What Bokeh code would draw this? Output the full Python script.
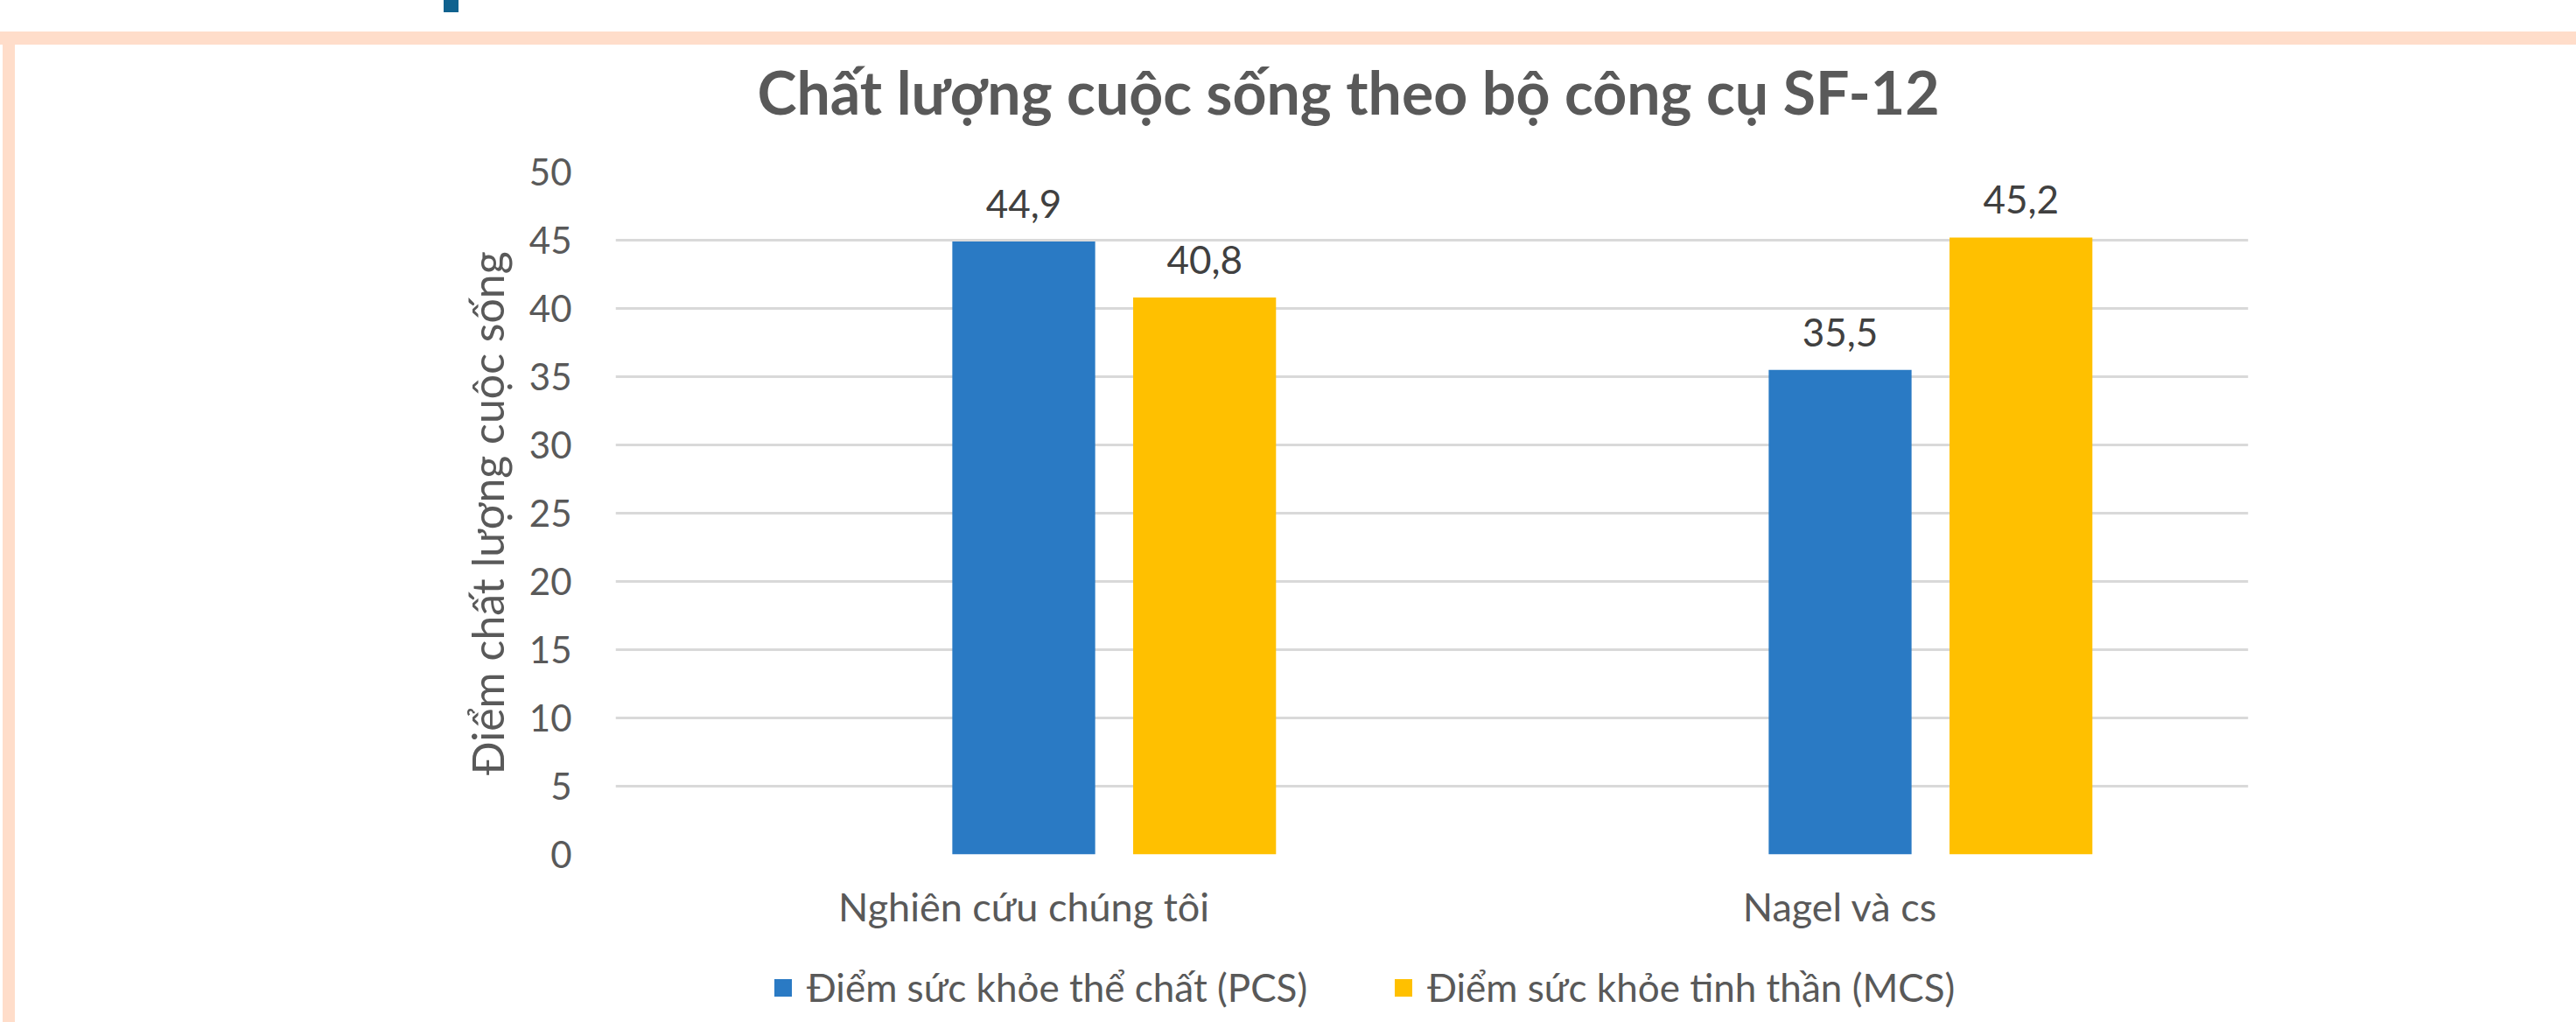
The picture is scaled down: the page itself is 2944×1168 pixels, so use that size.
from bokeh.plotting import figure
from bokeh.layouts import column
from bokeh.models import (ColumnDataSource, FactorRange, FixedTicker, LabelSet,
                          Legend, LegendItem)
from bokeh.core.properties import value
from bokeh.transform import dodge
from bokeh.embed import file_html
from bokeh.resources import INLINE

# ---- data ----
categories = ["Nghiên cứu chúng tôi", "Nagel và cs"]
pcs_values = [44.9, 35.5]
mcs_values = [40.8, 45.2]
series_names = ["Điểm sức khỏe thể chất (PCS)", "Điểm sức khỏe tinh thần (MCS)"]
y_ticks = [0, 5, 10, 15, 20, 25, 30, 35, 40, 45, 50]
title_text = "Chất lượng cuộc sống theo bộ công cụ SF-12"
y_title = "Điểm chất lượng cuộc sống"

def fmt(v):
    return f"{v:.1f}".replace(".", ",")

src = ColumnDataSource(dict(
    cat=categories,
    pcs=pcs_values,
    mcs=mcs_values,
    pcs_lbl=[fmt(v) for v in pcs_values],
    mcs_lbl=[fmt(v) for v in mcs_values],
))

FONT = "Lato"
TXT = "#595959"
BLUE = "#2A7AC4"
YELLOW = "#FFC000"
PEACH = "#FFDDCA"

W = 2944
H_MAIN = 1083
H_LEG = 85

p = figure(width=W, height=H_MAIN, x_range=FactorRange(*categories, range_padding=0),
           y_range=(0, 50), output_backend="svg", toolbar_location=None,
           min_border_left=703, min_border_right=375, min_border_top=196,
           min_border_bottom=107)
p.outline_line_color = None
p.background_fill_color = "white"
p.border_fill_color = None

bw = 0.175
off = 0.2215
r1 = p.vbar(x=dodge("cat", 0, range=p.x_range), top="pcs", width=bw, source=src,
            fill_color=BLUE, line_color=None)
r2 = p.vbar(x=dodge("cat", off, range=p.x_range), top="mcs", width=bw, source=src,
            fill_color=YELLOW, line_color=None)

for col, o in (("pcs", 0), ("mcs", off)):
    p.add_layout(LabelSet(x=dodge("cat", o, range=p.x_range), y=col, text=col + "_lbl",
                          source=src, text_align="center", text_baseline="alphabetic",
                          y_offset=27, text_font=value(FONT), text_font_size="44px",
                          text_color="#404040"))

# title
p.title.text = title_text
p.title.text_font = FONT
p.title.text_font_size = "68px"
p.title.text_font_style = "bold"
p.title.text_color = TXT
p.title.align = "left"
p.title.offset = 162
p.title.standoff = 103

# axes
p.yaxis.ticker = FixedTicker(ticks=y_ticks)
p.yaxis.axis_line_color = None
p.yaxis.major_tick_line_color = None
p.yaxis.minor_tick_line_color = None
p.yaxis.major_label_standoff = 44
p.yaxis.major_label_text_font = FONT
p.yaxis.major_label_text_font_size = "42px"
p.yaxis.major_label_text_color = TXT
p.yaxis.axis_label = y_title
p.yaxis.axis_label_text_font = FONT
p.yaxis.axis_label_text_font_size = "50px"
p.yaxis.axis_label_text_font_style = "normal"
p.yaxis.axis_label_text_color = TXT
p.yaxis.axis_label_standoff = 15

p.xaxis.axis_line_color = None
p.xaxis.major_tick_line_color = None
p.xaxis.minor_tick_line_color = None
p.xaxis.major_label_standoff = 26
p.xaxis.major_label_text_font = FONT
p.xaxis.major_label_text_font_size = "45px"
p.xaxis.major_label_text_color = TXT

p.xgrid.grid_line_color = None
p.ygrid.grid_line_color = "#D9D9D9"
p.ygrid.grid_line_width = 3

# ---- legend strip (same series, drawn out of view so only the legend shows) ----
p2 = figure(width=W, height=H_LEG, x_range=p.x_range, y_range=(1000, 1001),
            output_backend="svg", toolbar_location=None,
            x_axis_type=None, y_axis_type=None, min_border=0)
p2.outline_line_color = None
p2.background_fill_color = None
p2.border_fill_color = None
p2.grid.visible = False
l1 = p2.vbar(x="cat", top="pcs", width=bw, source=src, fill_color=BLUE, line_color=None)
l2 = p2.vbar(x="cat", top="mcs", width=bw, source=src, fill_color=YELLOW, line_color=None)
legend = Legend(items=[LegendItem(label=series_names[0], renderers=[l1]),
                       LegendItem(label=series_names[1], renderers=[l2])],
                orientation="horizontal", location=(179, 14),
                glyph_width=25, glyph_height=25, label_standoff=15, spacing=97,
                padding=0, margin=0, border_line_color=None,
                background_fill_alpha=0,
                label_text_font=FONT, label_text_font_size="44px",
                label_text_color=TXT)
p2.add_layout(legend, "center")

layout = column(p, p2, spacing=0)
# decorative page frame behind the transparent borders
layout.styles = {
    "background": (
        f"linear-gradient(#10628F,#10628F) 507px 0px / 17px 14px no-repeat, "
        f"linear-gradient({PEACH},{PEACH}) 0px 36px / 100% 15px no-repeat, "
        f"linear-gradient({PEACH},{PEACH}) 3px 36px / 14px 100% no-repeat, "
        "#FFFFFF"
    )
}

open("out.html", "w").write(file_html(layout, INLINE))
